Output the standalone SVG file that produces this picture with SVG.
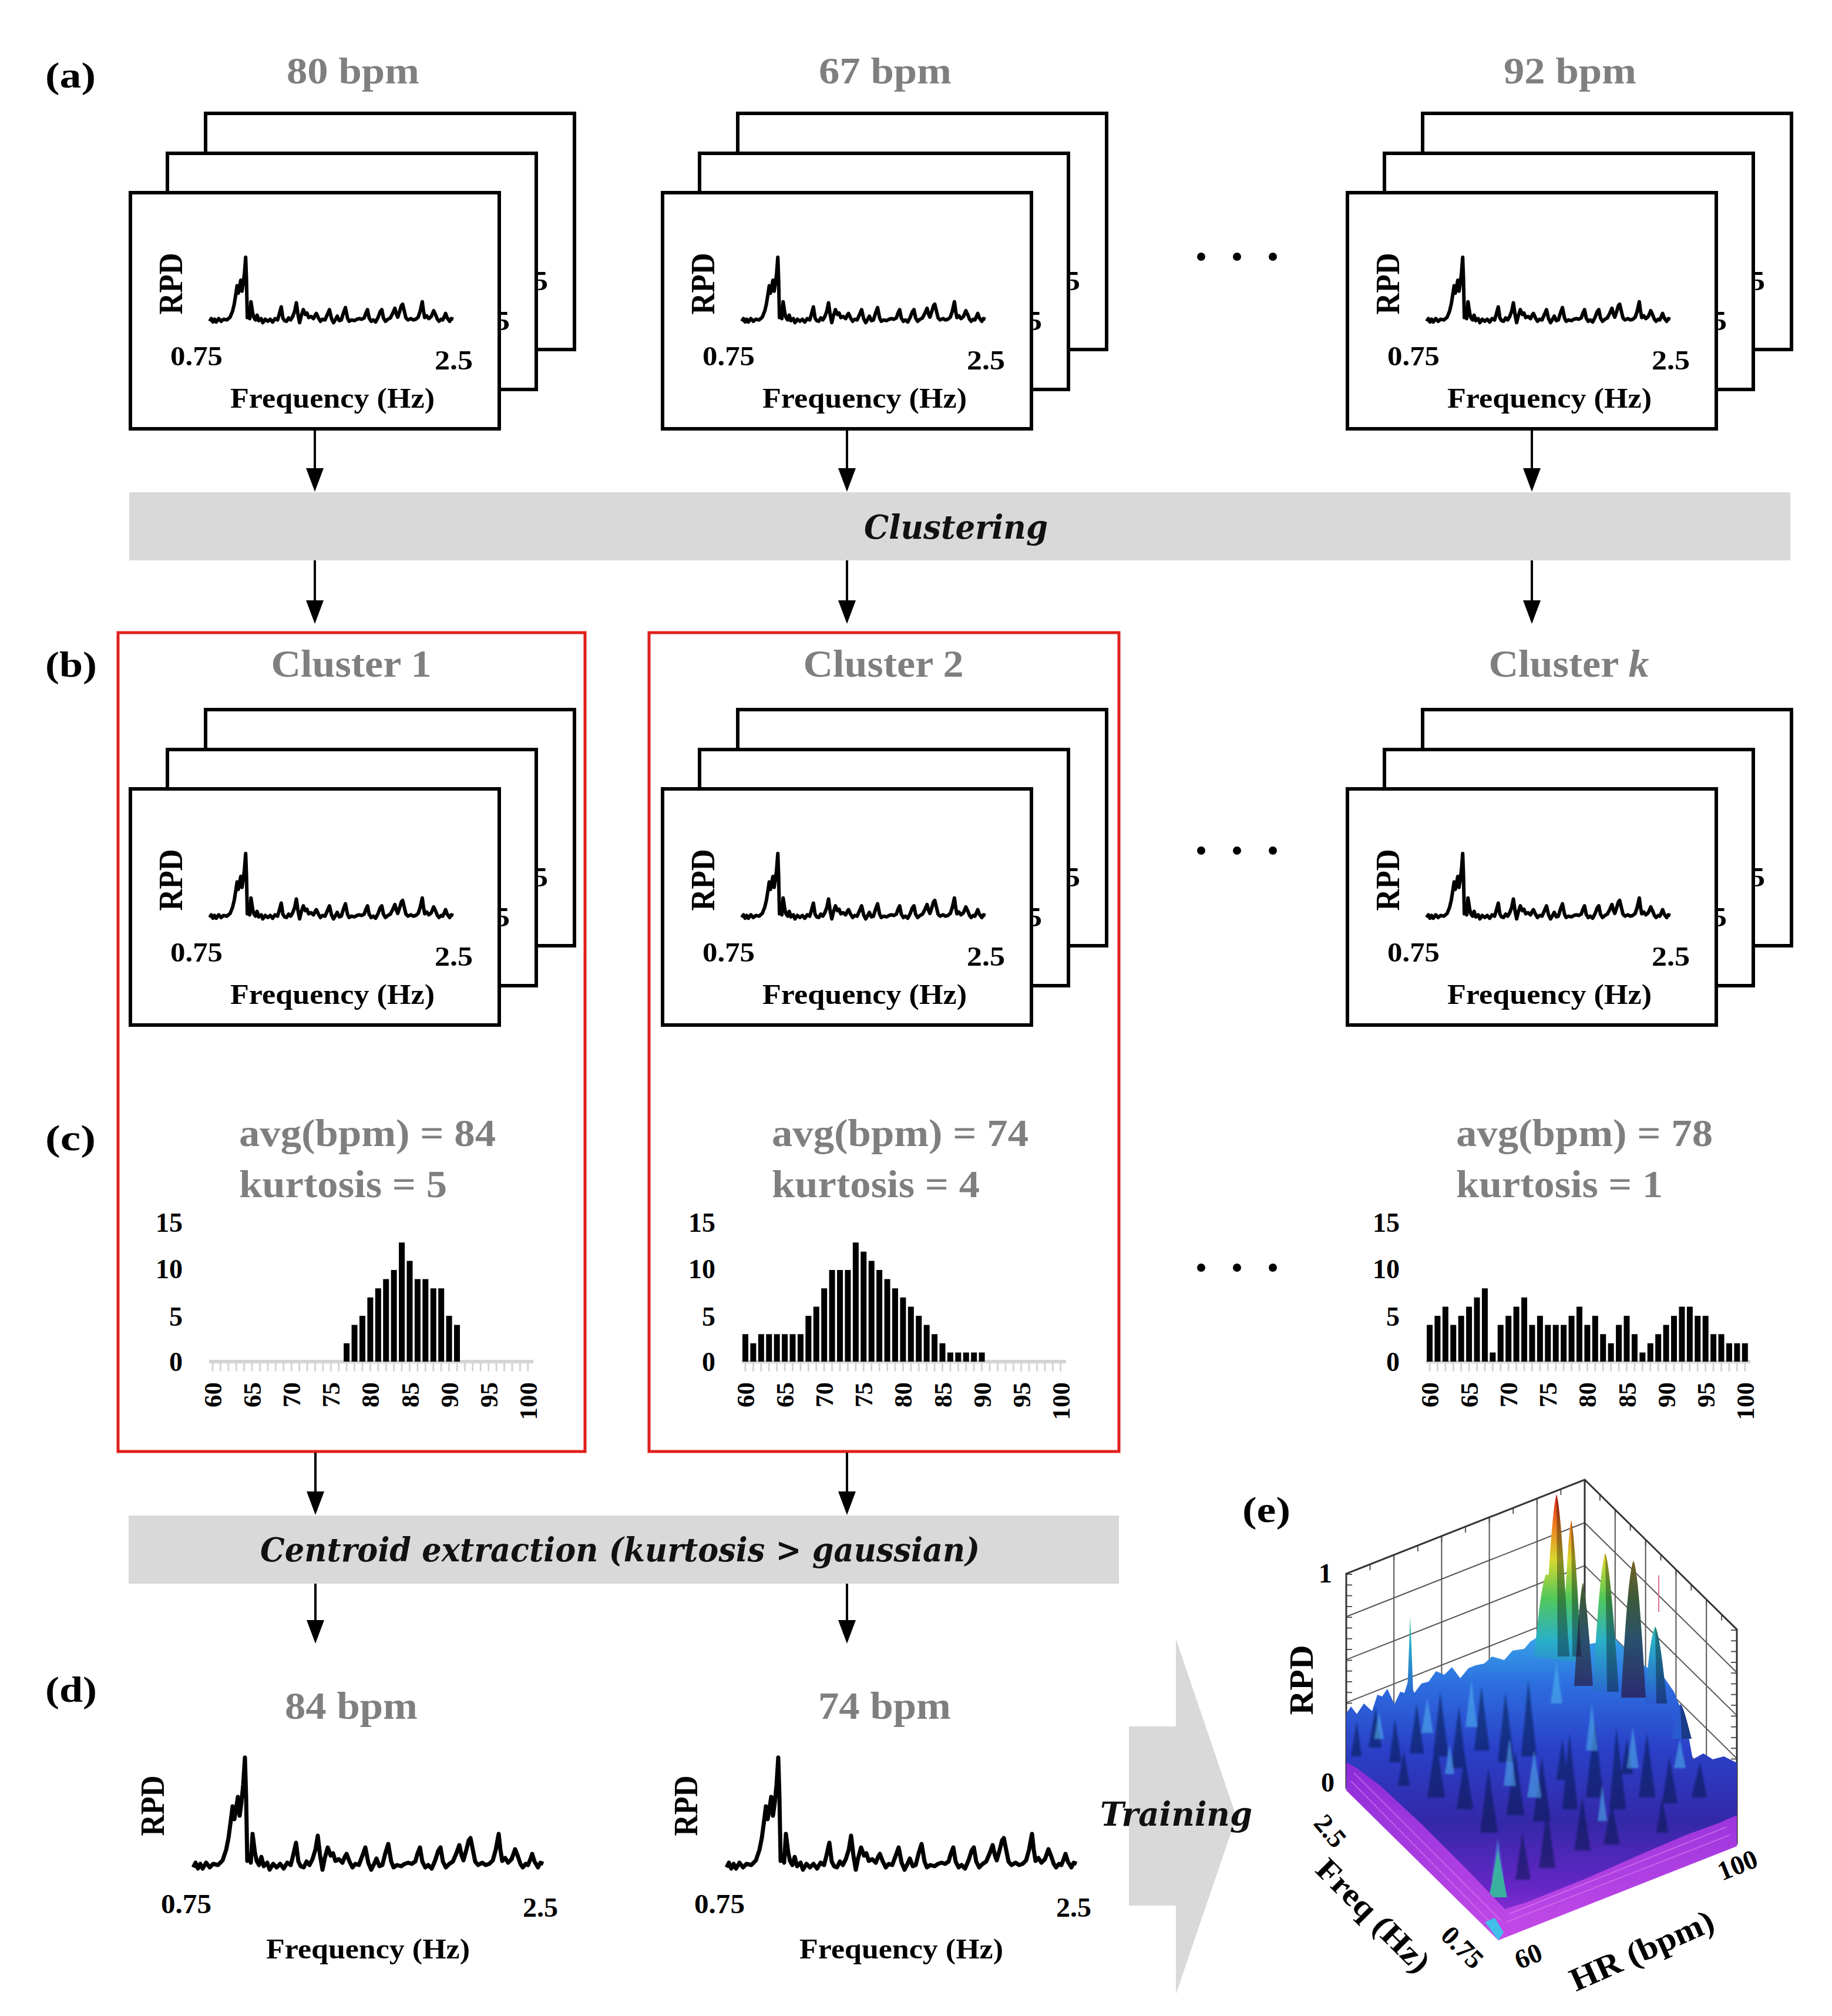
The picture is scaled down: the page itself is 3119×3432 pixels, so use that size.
<svg xmlns="http://www.w3.org/2000/svg" xmlns:xlink="http://www.w3.org/1999/xlink" width="3119" height="3432" viewBox="0 0 3119 3432">
<style>
.lbl{font-family:"Liberation Serif","Times New Roman",serif;font-weight:bold;fill:#000}
.gray{fill:#7f7f7f}
.it{font-family:"DejaVu Serif",serif;font-style:italic;font-weight:bold;fill:#111}
.card{fill:#fff;stroke:#000;stroke-width:6}
.conn{stroke:#000;stroke-width:4;fill:none;marker-end:url(#ah)}
.gbar{fill:#d9d9d9}
.redbox{fill:none;stroke:#e0201c;stroke-width:5}
.dot{fill:#000}
.axis{stroke:#d4d4d4;fill:none}
</style>
<defs>
<marker id="ah" markerUnits="userSpaceOnUse" markerWidth="42" markerHeight="32" refX="30" refY="15" orient="auto"><path d="M0,0 L40,15 L0,30 Z" fill="#000"/></marker>
<filter id="soft" x="-5%" y="-5%" width="110%" height="110%"><feGaussianBlur stdDeviation="1.6"/></filter>
<path id="spec" fill="none" stroke="#000" stroke-linejoin="round" vector-effect="non-scaling-stroke" d="M0,0 L4,-8 L8,2 L12,-6 L16,2 L22,-8 L28,0 L34,-6 L42,-4 L50,-12 L56,-30 L60,-50 L64,-80 L67,-104 L70,-82 L73,-100 L76,-120 L79,-88 L82,-110 L85,-140 L88,-187 L90,-120 L92,-11 L95,-20 L98,-8 L101,-57 L105,-25 L108,-11 L112,-4 L116,-18 L120,-2 L126,-8 L130,4 L136,-6 L142,0 L148,-6 L154,2 L160,-8 L166,-4 L170,-20 L175,-42 L179,-10 L183,-2 L188,0 L193,-10 L198,-4 L203,-14 L208,-30 L212,-54 L216,-20 L220,4 L224,-16 L229,-34 L234,-20 L238,-24 L242,-11 L248,-14 L254,-8 L258,-18 L261,-23 L266,-10 L271,0 L276,-6 L282,-4 L288,-20 L293,-34 L298,-8 L303,4 L308,-6 L312,-15 L317,-2 L322,-4 L327,-24 L332,-40 L337,-10 L341,0 L347,-4 L354,-2 L360,-6 L366,-8 L372,-6 L378,-10 L382,-24 L386,-34 L390,-10 L395,0 L400,-4 L406,2 L412,-12 L417,-28 L421,-34 L425,-10 L430,0 L436,-6 L442,-10 L448,-24 L453,-38 L457,-20 L460,-12 L465,-30 L469,-46 L472,-50 L476,-30 L480,-10 L485,-4 L492,-8 L498,-4 L504,-6 L510,-12 L515,-30 L520,-57 L523,-30 L526,-11 L531,-16 L536,-8 L542,-14 L548,-31 L553,-18 L557,-6 L561,0 L566,-6 L570,-4 L574,-14 L577,-23 L581,-10 L587,0 L591,-8 L596,-6"/>
<g id="card">
 <rect class="card" x="0" y="0" width="628" height="402"/>
 <text class="lbl" font-size="56" text-anchor="middle" textLength="105" lengthAdjust="spacingAndGlyphs" transform="translate(88,155) rotate(-90)">RPD</text>
 <use href="#spec" stroke-width="6" transform="translate(135,219) scale(0.696,0.583)"/>
 <text class="lbl" font-size="46" x="68" y="294" textLength="89" lengthAdjust="spacingAndGlyphs">0.75</text>
 <text class="lbl" font-size="46" x="518" y="301" textLength="65" lengthAdjust="spacingAndGlyphs">2.5</text>
 <text class="lbl" font-size="48" x="170" y="366" textLength="348" lengthAdjust="spacingAndGlyphs">Frequency (Hz)</text>
</g>
<g id="stack">
 <use href="#card" x="128" y="-135"/>
 <use href="#card" x="63" y="-67"/>
 <use href="#card"/>
</g>
<g id="histframe">
 <text class="lbl" font-size="46" x="311" y="2097" text-anchor="end">15</text>
 <text class="lbl" font-size="46" x="311" y="2176" text-anchor="end">10</text>
 <text class="lbl" font-size="46" x="311" y="2257" text-anchor="end">5</text>
 <text class="lbl" font-size="46" x="311" y="2334" text-anchor="end">0</text>
 <line class="axis" x1="356" y1="2318" x2="908" y2="2318" stroke-width="6"/>
 <line class="axis" x1="360.5" y1="2326" x2="905" y2="2326" stroke-width="17" stroke-dasharray="3 10.42"/>
 <g class="lbl" font-size="43" text-anchor="end">
  <text transform="translate(377,2353) rotate(-90)">60</text>
  <text transform="translate(444.1,2353) rotate(-90)">65</text>
  <text transform="translate(511.2,2353) rotate(-90)">70</text>
  <text transform="translate(578.3,2353) rotate(-90)">75</text>
  <text transform="translate(645.4,2353) rotate(-90)">80</text>
  <text transform="translate(712.5,2353) rotate(-90)">85</text>
  <text transform="translate(779.6,2353) rotate(-90)">90</text>
  <text transform="translate(846.7,2353) rotate(-90)">95</text>
  <text transform="translate(913.8,2353) rotate(-90)">100</text>
 </g>
</g>
<linearGradient id="gMass" gradientUnits="userSpaceOnUse" x1="0" y1="2780" x2="0" y2="3300">
 <stop offset="0" stop-color="#38a8e8"/><stop offset="0.16" stop-color="#2d70e0"/><stop offset="0.38" stop-color="#2a40c8"/><stop offset="0.62" stop-color="#3428a8"/><stop offset="0.85" stop-color="#6a26c8"/><stop offset="1" stop-color="#a63cdc"/>
</linearGradient>
<linearGradient id="gPurp" gradientUnits="userSpaceOnUse" x1="0" y1="3000" x2="0" y2="3300">
 <stop offset="0" stop-color="#8a2cd8"/><stop offset="1" stop-color="#c44ae8"/>
</linearGradient>
<linearGradient id="gJet" gradientUnits="userSpaceOnUse" x1="0" y1="2540" x2="0" y2="2900">
 <stop offset="0" stop-color="#e01818"/><stop offset="0.15" stop-color="#f07a20"/><stop offset="0.32" stop-color="#d8d830"/><stop offset="0.5" stop-color="#52c85a"/><stop offset="0.7" stop-color="#2ab0c8"/><stop offset="1" stop-color="#2a5ad0"/>
</linearGradient>
</defs>
<rect width="3119" height="3432" fill="#fff"/>

<!-- panel labels -->
<g id="panel-labels" class="lbl" font-size="62">
 <text x="77" y="149" textLength="86" lengthAdjust="spacingAndGlyphs">(a)</text>
 <text x="77" y="1152" textLength="88" lengthAdjust="spacingAndGlyphs">(b)</text>
 <text x="77" y="1958" textLength="86" lengthAdjust="spacingAndGlyphs">(c)</text>
 <text x="77" y="2897" textLength="88" lengthAdjust="spacingAndGlyphs">(d)</text>
 <text x="2115" y="2591" textLength="82" lengthAdjust="spacingAndGlyphs">(e)</text>
</g>

<!-- row (a) -->
<g id="title-a1"><text class="lbl gray" font-size="64" x="601" y="142" text-anchor="middle" textLength="226" lengthAdjust="spacingAndGlyphs">80 bpm</text></g>
<g id="title-a2"><text class="lbl gray" font-size="64" x="1507" y="142" text-anchor="middle" textLength="226" lengthAdjust="spacingAndGlyphs">67 bpm</text></g>
<g id="title-a3"><text class="lbl gray" font-size="64" x="2673" y="142" text-anchor="middle" textLength="226" lengthAdjust="spacingAndGlyphs">92 bpm</text></g>
<g id="node-a1"><use href="#stack" transform="translate(222,328)"/></g>
<g id="node-a2"><use href="#stack" transform="translate(1128,328)"/></g>
<g id="node-a3"><use href="#stack" transform="translate(2294,328)"/></g>
<g id="dots-a"><circle class="dot" cx="2045" cy="437" r="7"/><circle class="dot" cx="2106" cy="437" r="7"/><circle class="dot" cx="2167" cy="437" r="7"/></g>

<!-- clustering bar -->
<g id="node-clustering">
 <rect class="gbar" x="220" y="838" width="2828" height="116"/>
 <text class="it" font-size="56" x="1471" y="917" textLength="313" lengthAdjust="spacingAndGlyphs">Clustering</text>
</g>

<!-- red cluster boxes -->
<g id="node-cluster1-box"><rect class="redbox" x="201" y="1077" width="795" height="1394"/></g>
<g id="node-cluster2-box"><rect class="redbox" x="1105" y="1077" width="800" height="1394"/></g>

<!-- row (b) -->
<g id="title-b1"><text class="lbl gray" font-size="66" x="598" y="1152" text-anchor="middle" textLength="273" lengthAdjust="spacingAndGlyphs">Cluster 1</text></g>
<g id="title-b2"><text class="lbl gray" font-size="66" x="1504" y="1152" text-anchor="middle" textLength="273" lengthAdjust="spacingAndGlyphs">Cluster 2</text></g>
<g id="title-b3"><text class="lbl gray" font-size="66" x="2671" y="1152" text-anchor="middle" textLength="273" lengthAdjust="spacingAndGlyphs">Cluster <tspan font-style="italic">k</tspan></text></g>
<g id="node-b1"><use href="#stack" transform="translate(222,1343)"/></g>
<g id="node-b2"><use href="#stack" transform="translate(1128,1343)"/></g>
<g id="node-b3"><use href="#stack" transform="translate(2294,1343)"/></g>
<g id="dots-b"><circle class="dot" cx="2045" cy="1448" r="7"/><circle class="dot" cx="2106" cy="1448" r="7"/><circle class="dot" cx="2167" cy="1448" r="7"/></g>

<!-- row (c) -->
<g id="node-c1">
 <text class="lbl gray" font-size="66" x="407" y="1951" textLength="437" lengthAdjust="spacingAndGlyphs">avg(bpm) = 84</text>
 <text class="lbl gray" font-size="66" x="407" y="2038" textLength="354" lengthAdjust="spacingAndGlyphs">kurtosis = 5</text>
 <use href="#histframe"/>
 <path fill="#000" transform="translate(362,2318) scale(13.42,-15.6)" d="M16.6275,0 v2h.745v-2z m1,0 v4h.745v-4z m1,0 v5h.745v-5z m1,0 v7h.745v-7z m1,0 v8h.745v-8z m1,0 v9h.745v-9z m1,0 v10h.745v-10z m1,0 v13h.745v-13z m1,0 v11h.745v-11z m1,0 v9h.745v-9z m1,0 v9h.745v-9z m1,0 v8h.745v-8z m1,0 v8h.745v-8z m1,0 v5h.745v-5z m1,0 v4h.745v-4z"/>
</g>
<g id="node-c2" transform="translate(907,0)">
 <text class="lbl gray" font-size="66" x="407" y="1951" textLength="437" lengthAdjust="spacingAndGlyphs">avg(bpm) = 74</text>
 <text class="lbl gray" font-size="66" x="407" y="2038" textLength="354" lengthAdjust="spacingAndGlyphs">kurtosis = 4</text>
 <use href="#histframe"/>
 <path fill="#000" transform="translate(362,2318) scale(13.42,-15.6)" d="M-0.3725,0 v3h.745v-3z m1,0 v2h.745v-2z m1,0 v3h.745v-3z m1,0 v3h.745v-3z m1,0 v3h.745v-3z m1,0 v3h.745v-3z m1,0 v3h.745v-3z m1,0 v3h.745v-3z m1,0 v5h.745v-5z m1,0 v6h.745v-6z m1,0 v8h.745v-8z m1,0 v10h.745v-10z m1,0 v10h.745v-10z m1,0 v10h.745v-10z m1,0 v13h.745v-13z m1,0 v12h.745v-12z m1,0 v11h.745v-11z m1,0 v10h.745v-10z m1,0 v9h.745v-9z m1,0 v8h.745v-8z m1,0 v7h.745v-7z m1,0 v6h.745v-6z m1,0 v5h.745v-5z m1,0 v4h.745v-4z m1,0 v3h.745v-3z m1,0 v2h.745v-2z m1,0 v1h.745v-1z m1,0 v1h.745v-1z m1,0 v1h.745v-1z m1,0 v1h.745v-1z m1,0 v1h.745v-1z"/>
</g>
<g id="node-c3" transform="translate(2072,0)">
 <text class="lbl gray" font-size="66" x="407" y="1951" textLength="437" lengthAdjust="spacingAndGlyphs">avg(bpm) = 78</text>
 <text class="lbl gray" font-size="66" x="407" y="2038" textLength="352" lengthAdjust="spacingAndGlyphs">kurtosis = 1</text>
 <use href="#histframe"/>
 <path fill="#000" transform="translate(362,2318) scale(13.42,-15.6)" d="M-0.3725,0 v4h.745v-4z m1,0 v5h.745v-5z m1,0 v6h.745v-6z m1,0 v4h.745v-4z m1,0 v5h.745v-5z m1,0 v6h.745v-6z m1,0 v7h.745v-7z m1,0 v8h.745v-8z m1,0 v1h.745v-1z m1,0 v4h.745v-4z m1,0 v5h.745v-5z m1,0 v6h.745v-6z m1,0 v7h.745v-7z m1,0 v4h.745v-4z m1,0 v5h.745v-5z m1,0 v4h.745v-4z m1,0 v4h.745v-4z m1,0 v4h.745v-4z m1,0 v5h.745v-5z m1,0 v6h.745v-6z m1,0 v4h.745v-4z m1,0 v5h.745v-5z m1,0 v3h.745v-3z m1,0 v2h.745v-2z m1,0 v4h.745v-4z m1,0 v5h.745v-5z m1,0 v3h.745v-3z m1,0 v1h.745v-1z m1,0 v2h.745v-2z m1,0 v3h.745v-3z m1,0 v4h.745v-4z m1,0 v5h.745v-5z m1,0 v6h.745v-6z m1,0 v6h.745v-6z m1,0 v5h.745v-5z m1,0 v5h.745v-5z m1,0 v3h.745v-3z m1,0 v3h.745v-3z m1,0 v2h.745v-2z m1,0 v2h.745v-2z m1,0 v2h.745v-2z"/>
</g>
<g id="dots-c"><circle class="dot" cx="2045" cy="2158" r="7"/><circle class="dot" cx="2106" cy="2158" r="7"/><circle class="dot" cx="2167" cy="2158" r="7"/></g>

<!-- centroid bar -->
<g id="node-centroid">
 <rect class="gbar" x="219" y="2580" width="1686" height="116"/>
 <text class="it" font-size="56" x="443" y="2658" textLength="1225" lengthAdjust="spacingAndGlyphs">Centroid extraction (kurtosis &gt; gaussian)</text>
</g>

<!-- row (d) -->
<g id="node-d1">
 <text class="lbl gray" font-size="66" x="598" y="2926" text-anchor="middle" textLength="226" lengthAdjust="spacingAndGlyphs">84 bpm</text>
 <text class="lbl" font-size="56" text-anchor="middle" textLength="103" lengthAdjust="spacingAndGlyphs" transform="translate(279,3074) rotate(-90)">RPD</text>
 <use href="#spec" stroke-width="7" transform="translate(329,3179)"/>
 <text class="lbl" font-size="46" x="274" y="3257" textLength="86" lengthAdjust="spacingAndGlyphs">0.75</text>
 <text class="lbl" font-size="46" x="890" y="3263" textLength="60" lengthAdjust="spacingAndGlyphs">2.5</text>
 <text class="lbl" font-size="48" x="453" y="3334" textLength="347" lengthAdjust="spacingAndGlyphs">Frequency (Hz)</text>
</g>
<g id="node-d2" transform="translate(908,0)">
 <text class="lbl gray" font-size="66" x="598" y="2926" text-anchor="middle" textLength="226" lengthAdjust="spacingAndGlyphs">74 bpm</text>
 <text class="lbl" font-size="56" text-anchor="middle" textLength="103" lengthAdjust="spacingAndGlyphs" transform="translate(279,3074) rotate(-90)">RPD</text>
 <use href="#spec" stroke-width="7" transform="translate(329,3179)"/>
 <text class="lbl" font-size="46" x="274" y="3257" textLength="86" lengthAdjust="spacingAndGlyphs">0.75</text>
 <text class="lbl" font-size="46" x="890" y="3263" textLength="60" lengthAdjust="spacingAndGlyphs">2.5</text>
 <text class="lbl" font-size="48" x="453" y="3334" textLength="347" lengthAdjust="spacingAndGlyphs">Frequency (Hz)</text>
</g>

<!-- training arrow -->
<g id="node-training">
 <polygon class="gbar" points="1922,2939 2002,2939 2002,2790 2105,3093 2002,3395 2002,3244 1922,3244"/>
 <text class="it" font-size="56" x="1873" y="3108" textLength="259" lengthAdjust="spacingAndGlyphs">Training</text>
</g>

<!-- (e) 3D plot -->
<g id="node-e">
 <polygon points="2292,3045 2698,2885 2698,2519 2292,2679" fill="#fff"/>
 <polygon points="2698,2885 2957,3140 2957,2774 2698,2519" fill="#fff"/>
 <path fill="none" stroke="#555" stroke-width="2" d="M2373.2,3013 V2647 M2454.4,2981 V2615 M2535.6,2949 V2583 M2616.8,2917 V2551 M2292,2971.8 L2698,2811.8 M2292,2898.6 L2698,2738.6 M2292,2825.4 L2698,2665.4 M2292,2752.2 L2698,2592.2 M2749.8,2936 V2570 M2801.6,2987 V2621 M2853.4,3038 V2672 M2905.2,3089 V2723 M2698,2811.8 L2957,3066.8 M2698,2738.6 L2957,2993.6 M2698,2665.4 L2957,2920.4 M2698,2592.2 L2957,2847.2"/>
 <line x1="2297" y1="2679" x2="2297" y2="3045" stroke="#555" stroke-width="10" stroke-dasharray="2 16.3"/>
 <line x1="2952" y1="2774" x2="2952" y2="3140" stroke="#555" stroke-width="10" stroke-dasharray="2 16.3"/>
 <path fill="none" stroke="#555" stroke-width="2" d="M2332.6,2663 v10 M2373.2,2647 v10 M2413.8,2631 v10 M2454.4,2615 v10 M2495,2599 v10 M2535.6,2583 v10 M2576.2,2567 v10 M2616.8,2551 v10 M2657.4,2535 v10 M2723.9,2544.5 v10 M2749.8,2570 v10 M2775.7,2595.5 v10 M2801.6,2621 v10 M2827.5,2646.5 v10 M2853.4,2672 v10 M2879.3,2697.5 v10 M2905.2,2723 v10 M2931.1,2748.5 v10"/>
 <path fill="none" stroke="#333" stroke-width="3" d="M2292,3045 V2679 L2698,2519 L2957,2774 V3140 M2698,2519 V2885"/>
 <!-- surface mass -->
 <polygon fill="url(#gMass)" points="2292,2917 2300,2905 2310,2918 2322,2900 2336,2913 2345,2885 2353,2888 2362,2875 2374,2901 2384,2880 2391,2882 2398,2860 2408,2882 2420,2866 2432,2863 2445,2845 2459,2851 2472,2838 2486,2857 2500,2840 2512,2835 2527,2832 2540,2820 2561,2826 2575,2810 2595,2807 2605,2795 2616,2788 2640,2790 2700,2800 2750,2790 2790,2830 2834,2857 2850,2880 2870,2930 2882,2995 2900,2985 2916,2995 2935,2990 2957,3001 2957,3140 2551,3300 2292,3045"/>
 <g filter="url(#soft)">
 <path fill="#0c1640" opacity="0.5" d="M2300,2990 L2310,2930 L2318,2990Z M2330,2975 L2342,2905 L2352,2975Z M2365,3000 L2375,2925 L2386,3000Z M2400,2985 L2412,2900 L2424,2985Z M2440,2990 L2452,2880 L2466,2990Z M2470,3010 L2484,2905 L2496,3010Z M2510,2980 L2522,2870 L2536,2980Z M2550,3000 L2563,2880 L2578,3000Z M2590,2990 L2602,2860 L2616,2990Z M2430,3060 L2445,2960 L2460,3060Z M2480,3080 L2494,2990 L2508,3080Z M2520,3120 L2534,3010 L2550,3120Z M2565,3090 L2580,2980 L2595,3090Z M2610,3100 L2625,2990 L2640,3100Z M2660,3080 L2672,2950 L2686,3080Z M2700,3060 L2715,2930 L2730,3060Z M2740,3080 L2752,2940 L2768,3080Z M2790,3060 L2804,2950 L2818,3060Z M2830,3070 L2842,2990 L2856,3070Z M2880,3060 L2894,3000 L2906,3060Z M2620,3180 L2634,3080 L2648,3180Z M2680,3150 L2694,3060 L2708,3150Z M2730,3140 L2744,3070 L2758,3140Z M2580,3200 L2592,3120 L2606,3200Z M2380,3040 L2390,2980 L2400,3040Z M2650,3030 L2660,2960 L2670,3030Z M2760,3020 L2770,2960 L2780,3020Z M2820,3120 L2830,3060 L2840,3120Z"/>
 <path fill="#50b8f0" opacity="0.55" d="M2340,2960 L2348,2915 L2356,2960Z M2420,2950 L2430,2890 L2440,2950Z M2495,2940 L2505,2860 L2515,2940Z M2560,3040 L2570,2960 L2580,3040Z M2600,3060 L2612,2980 L2624,3060Z M2540,3200 L2550,3130 L2560,3200Z M2700,2980 L2710,2900 L2720,2980Z M2770,3010 L2780,2940 L2790,3010Z M2850,3010 L2860,2960 L2870,3010Z M2640,2900 L2650,2830 L2660,2900Z M2460,3020 L2468,2970 L2476,3020Z M2720,3100 L2728,3040 L2736,3100Z"/>
 </g>
 <path fill="#3ab0a0" d="M2535,3230 L2550,3150 L2566,3230Z"/>
 <!-- purple base strip -->
 <polygon fill="url(#gPurp)" points="2292,3000 2292,3048 2551,3303 2957,3143 2957,3090 2925,3104 2870,3124 2800,3154 2700,3198 2600,3238 2562,3250 2500,3185 2420,3105 2350,3040 2310,3010"/>
 <path fill="none" stroke="#e08af5" stroke-width="2" opacity="0.5" d="M2565,3272 L2945,3124 M2570,3258 L2940,3110 M2300,3032 L2552,3287 M2305,3018 L2556,3270"/>
 <path fill="#40c0e8" d="M2528,3272 L2551,3303 L2560,3290 L2545,3265Z"/>
 <!-- tall peaks -->
 <path fill="url(#gJet)" d="M2612,2820 C2618,2760 2624,2700 2632,2680 L2662,2690 C2670,2740 2680,2790 2690,2830 Z"/>
 <path fill="url(#gJet)" d="M2628,2820 C2636,2700 2642,2570 2650,2544 C2658,2570 2664,2700 2672,2820 Z"/>
 <path fill="url(#gJet)" d="M2660,2820 C2666,2700 2670,2610 2675,2588 C2680,2610 2686,2700 2692,2820 Z"/>
 <path fill="url(#gJet)" d="M2680,2870 C2686,2780 2690,2710 2695,2694 C2700,2710 2705,2780 2712,2870 Z"/>
 <path fill="url(#gJet)" d="M2712,2880 C2718,2760 2726,2660 2733,2644 C2740,2660 2748,2760 2756,2880 Z"/>
 <path fill="url(#gJet)" d="M2760,2890 C2767,2760 2774,2670 2781,2657 C2788,2670 2794,2760 2802,2890 Z"/>
 <path fill="url(#gJet)" d="M2800,2900 C2806,2820 2812,2780 2818,2769 C2824,2780 2830,2820 2838,2900 Z"/>
 <path fill="url(#gJet)" d="M2846,2960 C2852,2930 2856,2905 2861,2901 C2866,2905 2872,2930 2880,2960 Z"/>
 <path fill="url(#gJet)" d="M2396,2880 L2401,2751 L2406,2880 Z"/>
 <path fill="#000" opacity="0.35" d="M2650,2544 C2658,2570 2664,2700 2672,2820 L2652,2820 Z M2675,2588 C2680,2610 2686,2700 2692,2820 L2677,2820 Z M2733,2644 C2740,2660 2748,2760 2756,2880 L2736,2880 Z M2818,2769 C2824,2780 2830,2820 2838,2900 L2820,2900 Z M2861,2901 C2866,2905 2872,2930 2880,2960 L2863,2960 Z"/>
 <path fill="#2a0020" opacity="0.55" d="M2680,2870 C2686,2780 2690,2710 2695,2694 C2700,2710 2705,2780 2712,2870 Z M2760,2890 C2767,2760 2774,2670 2781,2657 C2788,2670 2794,2760 2802,2890 Z"/>
 <path stroke="#e07090" stroke-width="2" d="M2824,2682 V2744"/>
 <!-- labels -->
 <text class="lbl" font-size="46" x="2268" y="2694" text-anchor="end">1</text>
 <text class="lbl" font-size="46" x="2272" y="3050" text-anchor="end">0</text>
 <text class="lbl" font-size="56" text-anchor="middle" textLength="119" lengthAdjust="spacingAndGlyphs" transform="translate(2235,2860) rotate(-90)">RPD</text>
 <text class="lbl" font-size="46" text-anchor="middle" dominant-baseline="central" transform="translate(2265,3117) rotate(50)">2.5</text>
 <text class="lbl" font-size="54" text-anchor="middle" dominant-baseline="central" textLength="250" lengthAdjust="spacingAndGlyphs" transform="translate(2338,3261) rotate(45)">Freq (Hz)</text>
 <text class="lbl" font-size="46" text-anchor="middle" dominant-baseline="central" transform="translate(2490,3315) rotate(45)">0.75</text>
 <text class="lbl" font-size="46" text-anchor="middle" dominant-baseline="central" transform="translate(2602,3330) rotate(-22)">60</text>
 <text class="lbl" font-size="56" text-anchor="middle" dominant-baseline="central" textLength="262" lengthAdjust="spacingAndGlyphs" transform="translate(2795,3320) rotate(-24)">HR (bpm)</text>
 <text class="lbl" font-size="46" text-anchor="middle" dominant-baseline="central" transform="translate(2958,3175) rotate(-22)">100</text>
</g>

<!-- connectors -->
<g id="connectors">
 <path class="conn" d="M536,733 V827"/>
 <path class="conn" d="M1442,733 V827"/>
 <path class="conn" d="M2608,733 V827"/>
 <path class="conn" d="M536,954 V1052"/>
 <path class="conn" d="M1442,954 V1052"/>
 <path class="conn" d="M2608,954 V1052"/>
 <path class="conn" d="M537,2473 V2569"/>
 <path class="conn" d="M1442,2473 V2569"/>
 <path class="conn" d="M537,2696 V2788"/>
 <path class="conn" d="M1442,2696 V2788"/>
</g>
</svg>
